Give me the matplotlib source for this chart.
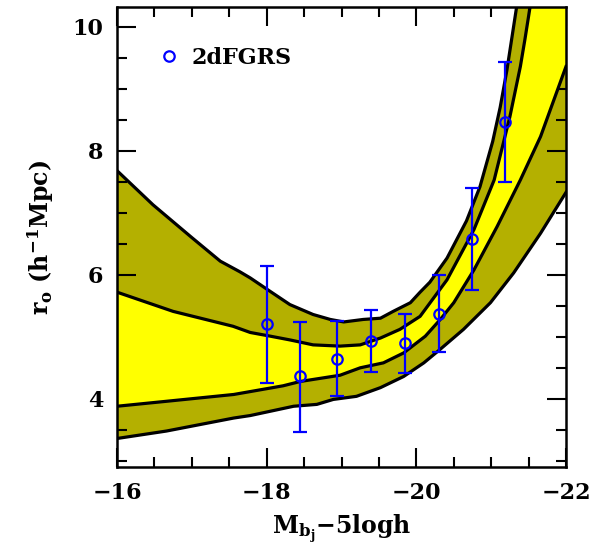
import matplotlib
matplotlib.use("Agg")
import matplotlib.pyplot as plt
from matplotlib.ticker import MultipleLocator

plt.rcParams['font.family'] = ['DejaVu Serif']
plt.rcParams['font.weight'] = 'bold'
plt.rcParams['mathtext.fontset'] = 'custom'
plt.rcParams['mathtext.rm'] = 'DejaVu Serif:bold'
plt.rcParams['mathtext.it'] = 'DejaVu Serif:italic:bold'
plt.rcParams['mathtext.bf'] = 'DejaVu Serif:bold'
plt.rcParams['axes.unicode_minus'] = True

# model band: outer (upper / lower) and inner (upper / lower) boundaries
x_outer_up = [-16.00, -16.48, -17.00, -17.38, -17.64, -17.78, -18.05, -18.31, -18.62,
              -18.85, -19.03, -19.29, -19.52, -19.69, -19.92, -20.05, -20.18, -20.41,
              -20.67, -20.85, -21.02, -21.12, -21.21, -21.28, -21.35]
y_outer_up = [7.68, 7.13, 6.60, 6.22, 6.05, 5.95, 5.73, 5.52, 5.36,
              5.28, 5.24, 5.28, 5.30, 5.41, 5.55, 5.72, 5.88, 6.27,
              6.87, 7.42, 8.15, 8.70, 9.30, 9.85, 10.40]

x_inner_up = [-16.00, -16.75, -17.55, -17.78, -18.05, -18.31, -18.62, -18.98, -19.25,
              -19.52, -19.78, -20.05, -20.41, -20.77, -21.04, -21.25, -21.39, -21.45, -21.53]
y_inner_up = [5.72, 5.41, 5.17, 5.07, 5.01, 4.95, 4.87, 4.85, 4.87,
              4.98, 5.12, 5.33, 5.92, 6.73, 7.53, 8.55, 9.36, 9.79, 10.40]

x_inner_lo = [-16.00, -16.66, -17.56, -18.22, -18.45, -18.98, -19.25, -19.56, -19.83,
              -20.12, -20.32, -20.50, -20.77, -21.08, -21.39, -21.66, -22.00]
y_inner_lo = [3.88, 3.96, 4.07, 4.21, 4.28, 4.38, 4.50, 4.58, 4.74,
              5.01, 5.28, 5.55, 6.08, 6.78, 7.53, 8.23, 9.36]

x_outer_lo = [-16.00, -16.66, -17.56, -17.78, -18.36, -18.67, -18.89, -19.20, -19.52,
              -19.83, -20.10, -20.32, -20.63, -20.99, -21.30, -21.66, -22.00]
y_outer_lo = [3.36, 3.48, 3.69, 3.73, 3.88, 3.91, 3.99, 4.04, 4.18,
              4.36, 4.58, 4.80, 5.12, 5.55, 6.03, 6.67, 7.33]

# 2dFGRS measurements
mag = [-18.00, -18.45, -18.94, -19.40, -19.85, -20.30, -20.74, -21.19]
r0 = [5.20, 4.36, 4.65, 4.94, 4.90, 5.37, 6.58, 8.47]
r0_hi = [6.15, 5.24, 5.26, 5.43, 5.37, 5.99, 7.40, 9.44]
r0_lo = [4.25, 3.47, 4.04, 4.43, 4.41, 4.76, 5.75, 7.50]

XLIM = (-16, -22)
YLIM = (2.9, 10.32)
OLIVE = '#B4B000'
YELLOW = '#FFFF00'
BLUE = '#0000FF'

fig = plt.figure(figsize=(5.98, 5.5), dpi=100)
ax = fig.add_axes([0.1957, 0.1509, 0.7508, 0.8364])

# filled bands, closed through the top-right corner of the frame
ytop = YLIM[1] + 0.1
ax.fill(x_outer_up + [XLIM[1]] + x_outer_lo[::-1],
        y_outer_up + [ytop] + y_outer_lo[::-1],
        color=OLIVE, lw=0, zorder=1)
ax.fill(x_inner_up + [XLIM[1]] + x_inner_lo[::-1],
        y_inner_up + [ytop] + y_inner_lo[::-1],
        color=YELLOW, lw=0, zorder=2)

for xs, ys in [(x_outer_up, y_outer_up), (x_inner_up, y_inner_up),
               (x_inner_lo, y_inner_lo), (x_outer_lo, y_outer_lo)]:
    ax.plot(xs, ys, color='black', lw=2.3, zorder=3, solid_joinstyle='round')

yerr = [[v - l for v, l in zip(r0, r0_lo)], [h - v for v, h in zip(r0, r0_hi)]]
ax.errorbar(mag, r0, yerr=yerr, fmt='none', ecolor=BLUE, elinewidth=1.6,
            capsize=4.7, capthick=1.6, zorder=4)
ax.plot(mag, r0, 'o', ms=7.5, mfc='none', mec=BLUE, mew=1.6, zorder=5,
        label='2dFGRS')

ax.set_xlim(*XLIM)
ax.set_ylim(*YLIM)

ax.xaxis.set_major_locator(MultipleLocator(2))
ax.xaxis.set_minor_locator(MultipleLocator(0.5))
ax.yaxis.set_major_locator(MultipleLocator(2))
ax.yaxis.set_minor_locator(MultipleLocator(0.5))
ax.tick_params(which='both', direction='in', top=True, right=True, width=1.5,
               labelsize=16)
ax.tick_params(which='major', length=14)
ax.tick_params(which='minor', length=7)
ax.tick_params(axis='x', which='major', pad=11)
ax.tick_params(axis='y', which='major', pad=10)
for s in ax.spines.values():
    s.set_linewidth(1.8)

ax.set_xlabel(r'$\mathrm{M_{b_j}{-}5logh}$', fontsize=17, labelpad=6)
ax.set_ylabel(r'$\mathrm{r_o\ (h^{-1}Mpc)}$', fontsize=17, labelpad=12)

ax.legend(loc='center left', bbox_to_anchor=(0.091, 0.889), frameon=False,
          numpoints=1, handlelength=1.0, handletextpad=0.5, borderpad=0,
          borderaxespad=0, prop={'size': 16, 'weight': 'bold'})

fig.savefig('out.png', dpi=100)
